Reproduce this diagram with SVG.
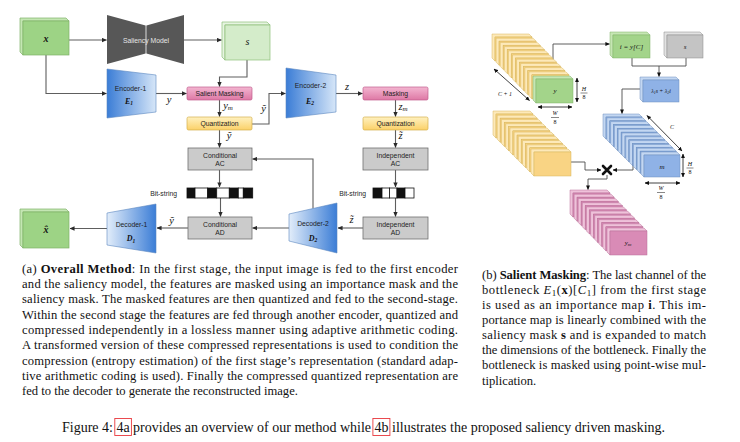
<svg xmlns="http://www.w3.org/2000/svg" width="740" height="442" viewBox="0 0 740 442">
<defs>
<style>
.ln{fill:none;stroke:#5e5e5e;stroke-width:1.1;marker-end:url(#ah)}
.ln2{fill:none;stroke:#4d4d4d;stroke-width:0.9;marker-end:url(#ah2)}
.dbl{fill:none;stroke:#111;stroke-width:0.8;marker-start:url(#dh);marker-end:url(#dh)}
.t{font-family:"Liberation Sans",Arial,sans-serif;font-size:6.8px;fill:#1e1e1e;text-anchor:middle}
.m{font-family:"Liberation Serif","Times New Roman",serif;font-style:italic;fill:#111;text-anchor:middle}
.cap{font-family:"Liberation Serif","Times New Roman",serif;font-size:12.6px;fill:#111}
.fig{font-family:"Liberation Serif","Times New Roman",serif;font-size:14px;fill:#111}
.gbox{fill:#cbcbcb;stroke:#707070;stroke-width:0.8}
.pk{fill:url(#gPink);stroke:#c25b8c;stroke-width:0.7}
.yl{fill:url(#gYel);stroke:#d4b04a;stroke-width:0.7}
.bw{fill:#fff;stroke:#111;stroke-width:0.8}
.bk{fill:#111;stroke:#111;stroke-width:0.8}
.gside{fill:#c4e6b3;stroke:#7fb267;stroke-width:0.7}
.gfront{fill:#9dd385;stroke:#7fb267;stroke-width:0.7}
.lside{fill:#e6f4e1;stroke:#8cbf78;stroke-width:0.7}
.lfront{fill:#d4ecca;stroke:#8cbf78;stroke-width:0.7}
.fb{fill:none;stroke:#e8383d;stroke-width:0.9}
</style>
<marker id="ah" viewBox="0 0 6 6" refX="5.5" refY="3" markerWidth="5" markerHeight="5" orient="auto" markerUnits="userSpaceOnUse"><path d="M0,0.4 L6,3 L0,5.6 Z" fill="#2a2a2a"/></marker>
<marker id="ah2" viewBox="0 0 6 6" refX="5.5" refY="3" markerWidth="4.5" markerHeight="4.5" orient="auto" markerUnits="userSpaceOnUse"><path d="M0,0.4 L6,3 L0,5.6 Z" fill="#111"/></marker>
<marker id="dh" viewBox="0 0 6 6" refX="5.5" refY="3" markerWidth="4.5" markerHeight="4.5" orient="auto-start-reverse" markerUnits="userSpaceOnUse"><path d="M0,0.3 L6,3 L0,5.7 Z" fill="#111"/></marker>
<linearGradient id="gEnc" x1="0" y1="0" x2="1" y2="0"><stop offset="0" stop-color="#3b7dd6"/><stop offset="1" stop-color="#d6e6f8"/></linearGradient>
<linearGradient id="gDec" x1="0" y1="0" x2="1" y2="0"><stop offset="0" stop-color="#e2edfa"/><stop offset="1" stop-color="#3b7dd6"/></linearGradient>
<linearGradient id="gPink" x1="0" y1="0" x2="0" y2="1"><stop offset="0" stop-color="#f3b6d1"/><stop offset="1" stop-color="#de78a5"/></linearGradient>
<linearGradient id="gYel" x1="0" y1="0" x2="0" y2="1"><stop offset="0" stop-color="#fff1c0"/><stop offset="1" stop-color="#fbd168"/></linearGradient>
<g id="ys"><path d="M0,0H37L40,3H3V27L0,24Z" fill="#fde9b9" stroke="#d8b65c" stroke-width="0.5"/><rect x="3" y="3" width="37" height="24" fill="#f9d484" stroke="#d8b65c" stroke-width="0.5"/></g>
<g id="gs"><path d="M0,0H37L40,3H3V27L0,24Z" fill="#c6e6b4" stroke="#7fb267" stroke-width="0.5"/><rect x="3" y="3" width="37" height="24" fill="#a3d48a" stroke="#7fb267" stroke-width="0.5"/></g>
<g id="bs"><path d="M0,0H36L39,3H3V25L0,22Z" fill="#c3d7f2" stroke="#6c8ebf" stroke-width="0.5"/><rect x="3" y="3" width="36" height="22" fill="#8fb2e6" stroke="#6c8ebf" stroke-width="0.5"/></g>
<g id="ps"><path d="M0,0H37L40,3H3V27L0,24Z" fill="#efc2da" stroke="#b96f98" stroke-width="0.5"/><rect x="3" y="3" width="37" height="24" fill="#d98bb6" stroke="#b96f98" stroke-width="0.5"/></g>
</defs>
<rect width="740" height="442" fill="#fff"/>

<!-- ===== (a) connectors ===== -->
<g id="connectors-a">
<path class="ln" d="M69,40 H106.5"/>
<path class="ln" d="M184,40 H221.5"/>
<path class="ln" d="M46,55 V93.5 H106.5"/>
<path class="ln" d="M156,93.5 H186.5"/>
<path class="ln" d="M247,60 V77 H219.5 V86.5"/>
<path class="ln" d="M219.5,100 V116.5"/>
<path class="ln" d="M252,124 H269 V93.5 H285.5"/>
<path class="ln" d="M336,93.5 H362.5"/>
<path class="ln" d="M395.5,100 V116.5"/>
<path class="ln" d="M219.5,130 V147.5"/>
<path class="ln" d="M219.5,170 V187"/>
<path class="ln" d="M220.5,198 V216.5"/>
<path class="ln" d="M188,228 H157"/>
<path class="ln" d="M107,228.5 H70"/>
<path class="ln" d="M289,228 H252.5"/>
<path class="ln" d="M313,208.5 V159 H252.5"/>
<path class="ln" d="M363,228 H338"/>
<path class="ln" d="M395.5,130 V147.5"/>
<path class="ln" d="M395.5,170 V187"/>
<path class="ln" d="M395.5,198 V216.5"/>
<text class="m" x="169" y="103" font-size="10.5">y</text>
<text class="m" x="228" y="108.5" font-size="10.5">y<tspan font-size="7" dy="1.5">m</tspan></text>
<text class="m" x="263.5" y="111.5" font-size="10.5">&#x1EF9;</text>
<text class="m" x="347" y="90" font-size="10.5">z</text>
<text class="m" x="403" y="109.5" font-size="10.5">z<tspan font-size="7" dy="1.5">m</tspan></text>
<text class="m" x="229" y="138.5" font-size="10.5">&#x1EF9;</text>
<text class="m" x="400.5" y="138.5" font-size="10.5">z&#x303;</text>
<text class="m" x="171.5" y="223.5" font-size="10.5">&#x1EF9;</text>
<text class="m" x="351.5" y="223" font-size="10.5">z&#x303;</text>
</g>

<!-- ===== (a) nodes ===== -->
<g id="node-x">
<path class="gside" d="M20,18 H66 L69,21 H23 V55 L20,52 Z"/>
<rect class="gfront" x="23" y="21" width="46" height="34"/>
<text class="m" x="46" y="41.5" font-size="10" font-weight="bold">x</text>
</g>
<g id="node-saliency">
<path d="M107,15 L145.6,25.5 V53.5 L107,64 Z M146.4,25.5 L184,15 V64 L146.4,53.5 Z" fill="#575757"/>
<text class="t" x="146" y="42.5" font-size="6" style="fill:#e6e6e6">Saliency Model</text>
</g>
<g id="node-s">
<path class="lside" d="M222,22 H267 L270,25 H225 V60 L222,57 Z"/>
<rect class="lfront" x="225" y="25" width="45" height="35"/>
<text class="m" x="247.5" y="45" font-size="10">s</text>
</g>
<g id="node-enc1">
<path d="M107,69 L156,75 V112 L107,118 Z" fill="url(#gEnc)" stroke="#5b86c0" stroke-width="0.6"/>
<text class="t" x="130.5" y="90.5">Encoder-1</text>
<text class="m" x="129" y="103.5" font-size="8" font-weight="bold">E<tspan font-size="5.5" dy="1.5">1</tspan></text>
</g>
<g id="node-salmask">
<rect class="pk" x="187" y="87" width="65" height="13" rx="1.5"/>
<text class="t" x="219.5" y="96" font-size="6.5">Salient Masking</text>
</g>
<g id="node-quant1">
<rect class="yl" x="187" y="117" width="65" height="13" rx="1.5"/>
<text class="t" x="219.5" y="126" font-size="6.5">Quantization</text>
</g>
<g id="node-enc2">
<path d="M286,68 L336,75 V112 L286,118 Z" fill="url(#gEnc)" stroke="#5b86c0" stroke-width="0.6"/>
<text class="t" x="310.5" y="88">Encoder-2</text>
<text class="m" x="310" y="103.5" font-size="8" font-weight="bold">E<tspan font-size="5.5" dy="1.5">2</tspan></text>
</g>
<g id="node-masking">
<rect class="pk" x="363" y="87" width="65" height="13" rx="1.5"/>
<text class="t" x="395.5" y="96" font-size="6.5">Masking</text>
</g>
<g id="node-quant2">
<rect class="yl" x="363" y="117" width="65" height="13" rx="1.5"/>
<text class="t" x="395.5" y="126" font-size="6.5">Quantization</text>
</g>
<g id="node-condac">
<rect class="gbox" x="188" y="148" width="64" height="22"/>
<text class="t" x="220" y="157.5">Conditional</text>
<text class="t" x="220" y="166">AC</text>
</g>
<g id="node-bits1">
<text class="t" x="177" y="195.5" style="text-anchor:end">Bit-string</text>
<rect class="bk" x="187" y="188" width="8" height="10"/>
<rect class="bw" x="195" y="188" width="12.7" height="10"/>
<rect class="bk" x="207.7" y="188" width="9" height="10"/>
<rect class="bw" x="216.7" y="188" width="12.6" height="10"/>
<rect class="bk" x="229.3" y="188" width="9" height="10"/>
<rect class="bw" x="238.3" y="188" width="5" height="10"/>
<rect class="bk" x="243.3" y="188" width="9.4" height="10"/>
</g>
<g id="node-condad">
<rect class="gbox" x="188" y="217" width="64" height="22"/>
<text class="t" x="220" y="226.5">Conditional</text>
<text class="t" x="220" y="235">AD</text>
</g>
<g id="node-dec1">
<path d="M107,213 L156,204 V253 L107,245 Z" fill="url(#gDec)" stroke="#5b86c0" stroke-width="0.6"/>
<text class="t" x="131.5" y="226.5">Decoder-1</text>
<text class="m" x="131" y="241" font-size="8" font-weight="bold">D<tspan font-size="5.5" dy="1.5">1</tspan></text>
</g>
<g id="node-xhat">
<path class="gside" d="M20,209 H66 L69,212 H23 V248 L20,245 Z"/>
<rect class="gfront" x="23" y="212" width="46" height="36"/>
<text class="m" x="46" y="233" font-size="10" font-weight="bold">x&#x302;</text>
</g>
<g id="node-dec2">
<path d="M289,214 L337,203 V253 L289,241 Z" fill="url(#gDec)" stroke="#5b86c0" stroke-width="0.6"/>
<text class="t" x="313" y="226">Decoder-2</text>
<text class="m" x="313" y="240.5" font-size="8" font-weight="bold">D<tspan font-size="5.5" dy="1.5">2</tspan></text>
</g>
<g id="node-indac">
<rect class="gbox" x="363" y="148" width="65" height="22"/>
<text class="t" x="395.5" y="157.5">Independent</text>
<text class="t" x="395.5" y="166">AC</text>
</g>
<g id="node-bits2">
<text class="t" x="366" y="195.5" style="text-anchor:end">Bit-string</text>
<rect class="bk" x="373" y="188" width="9" height="10"/>
<rect class="bw" x="382" y="188" width="7.5" height="10"/>
<rect class="bw" x="389.5" y="188" width="7.5" height="10"/>
<rect class="bk" x="397" y="188" width="8" height="10"/>
<rect class="bw" x="405" y="188" width="9" height="10"/>
</g>
<g id="node-indad">
<rect class="gbox" x="363" y="217" width="65" height="22"/>
<text class="t" x="395.5" y="226.5">Independent</text>
<text class="t" x="395.5" y="235">AD</text>
</g>

<!-- ===== (b) ===== -->
<g id="connectors-b">
<path class="ln2" d="M553,76 V44 H609.5"/>
<path fill="none" stroke="#4d4d4d" stroke-width="0.9" d="M632,58 V66 H686 V58"/>
<path class="ln2" d="M659,66 V76.5"/>
<path class="ln2" d="M640,89 H622 V113.5"/>
<path class="ln2" d="M570,162 H585 V170 H601"/>
<path class="ln2" d="M641,163 H633 V170 H613"/>
<path class="ln2" d="M607,175 V179 H588 V189.5"/>
<path class="dbl" d="M494,69 L529.5,100.5"/>
<path class="dbl" d="M577,78 V102"/>
<path class="dbl" d="M538,107 H572"/>
<path class="dbl" d="M647,115.5 L682,151"/>
<path class="dbl" d="M683,154 V177"/>
<path class="dbl" d="M645,183 H680"/>
</g>
<g id="node-ystack">
<use href="#ys" x="492" y="34"/><use href="#ys" x="496.1" y="38.2"/><use href="#ys" x="500.2" y="42.4"/><use href="#ys" x="504.3" y="46.6"/><use href="#ys" x="508.4" y="50.8"/><use href="#ys" x="512.5" y="55"/><use href="#ys" x="516.6" y="59.2"/><use href="#ys" x="520.7" y="63.4"/><use href="#ys" x="524.8" y="67.6"/><use href="#ys" x="528.9" y="71.8"/><use href="#gs" x="533" y="76"/>
<text class="m" x="555" y="93" font-size="7">y</text>
<text class="m" x="505" y="96" font-size="6">C + 1</text>
<text class="m" x="584" y="90.5" font-size="6">H</text>
<path d="M580.5,93 H587.5" stroke="#111" stroke-width="0.5"/>
<text class="m" x="584" y="99" font-size="6" style="font-style:normal">8</text>
<text class="m" x="555" y="115" font-size="6">W</text>
<path d="M551,117.5 H559" stroke="#111" stroke-width="0.5"/>
<text class="m" x="555" y="123.5" font-size="6" style="font-style:normal">8</text>
</g>
<g id="node-i">
<path d="M610,32 H647 L650,35 H613 V58 L610,55 Z" fill="#c6e6b4" stroke="#7fb267" stroke-width="0.5"/>
<rect x="613" y="35" width="37" height="23" fill="#a3d48a" stroke="#7fb267" stroke-width="0.5"/>
<text class="m" x="631.5" y="49" font-size="7">i = y[C]</text>
</g>
<g id="node-s2">
<path d="M664,32 H700 L703,35 H667 V58 L664,55 Z" fill="#e2e2e2" stroke="#8a8a8a" stroke-width="0.5"/>
<rect x="667" y="35" width="36" height="23" fill="#c4c4c4" stroke="#8a8a8a" stroke-width="0.5"/>
<text class="m" x="685" y="49" font-size="7">s</text>
</g>
<g id="node-lambda">
<path d="M640,77 H676 L679,80 H643 V102 L640,99 Z" fill="#c3d7f2" stroke="#6c8ebf" stroke-width="0.5"/>
<rect x="643" y="80" width="36" height="22" fill="#8fb2e6" stroke="#6c8ebf" stroke-width="0.5"/>
<text class="m" x="661" y="93" font-size="5.8">λ<tspan font-size="4" dy="1">1</tspan><tspan dy="-1">s + λ</tspan><tspan font-size="4" dy="1">2</tspan><tspan dy="-1">i</tspan></text>
</g>
<g id="node-mstack">
<use href="#bs" x="603" y="114"/><use href="#bs" x="606.8" y="117.8"/><use href="#bs" x="610.6" y="121.6"/><use href="#bs" x="614.4" y="125.4"/><use href="#bs" x="618.2" y="129.2"/><use href="#bs" x="622" y="133"/><use href="#bs" x="625.8" y="136.8"/><use href="#bs" x="629.6" y="140.6"/><use href="#bs" x="633.4" y="144.4"/><use href="#bs" x="637.2" y="148.2"/><use href="#bs" x="641" y="152"/>
<text class="m" x="662" y="169" font-size="7">m</text>
<text class="m" x="672" y="129" font-size="6">C</text>
<text class="m" x="690" y="165.5" font-size="6">H</text>
<path d="M686.5,168 H693.5" stroke="#111" stroke-width="0.5"/>
<text class="m" x="690" y="174" font-size="6" style="font-style:normal">8</text>
<text class="m" x="661" y="190" font-size="6">W</text>
<path d="M657,192.5 H665" stroke="#111" stroke-width="0.5"/>
<text class="m" x="661" y="199" font-size="6" style="font-style:normal">8</text>
</g>
<g id="node-ystack2">
<use href="#ys" x="493" y="111"/><use href="#ys" x="497.2" y="115.2"/><use href="#ys" x="501.4" y="119.4"/><use href="#ys" x="505.7" y="123.7"/><use href="#ys" x="509.9" y="127.9"/><use href="#ys" x="514.1" y="132.1"/><use href="#ys" x="518.3" y="136.3"/><use href="#ys" x="522.5" y="140.5"/><use href="#ys" x="526.8" y="144.8"/><use href="#ys" x="531" y="149"/>
</g>
<g id="node-times">
<path d="M603,166 L611,174 M611,166 L603,174" stroke="#111" stroke-width="2.6" stroke-linecap="round"/>
</g>
<g id="node-ymstack">
<use href="#ps" x="570" y="190"/><use href="#ps" x="574.1" y="194.2"/><use href="#ps" x="578.2" y="198.4"/><use href="#ps" x="582.3" y="202.7"/><use href="#ps" x="586.4" y="206.9"/><use href="#ps" x="590.6" y="211.1"/><use href="#ps" x="594.7" y="215.3"/><use href="#ps" x="598.8" y="219.6"/><use href="#ps" x="602.9" y="223.8"/><use href="#ps" x="607" y="228"/>
<text class="m" x="628" y="245" font-size="7">y<tspan font-size="5" dy="1">m</tspan></text>
</g>

<!-- ===== captions ===== -->
<g id="caption-a" class="cap">
<text x="22" y="272.5" textLength="436" lengthAdjust="spacing">(a) <tspan font-weight="bold">Overall Method</tspan>: In the first stage, the input image is fed to the first encoder</text>
<text x="22" y="287.8" textLength="436" lengthAdjust="spacing">and the saliency model, the features are masked using an importance mask and the</text>
<text x="22" y="303.2" textLength="436" lengthAdjust="spacing">saliency mask. The masked features are then quantized and fed to the second-stage.</text>
<text x="22" y="318.5" textLength="436" lengthAdjust="spacing">Within the second stage the features are fed through another encoder, quantized and</text>
<text x="22" y="333.9" textLength="436" lengthAdjust="spacing">compressed independently in a lossless manner using adaptive arithmetic coding.</text>
<text x="22" y="349.2" textLength="436" lengthAdjust="spacing">A transformed version of these compressed representations is used to condition the</text>
<text x="22" y="364.5" textLength="436" lengthAdjust="spacing">compression (entropy estimation) of the first stage’s representation (standard adap-</text>
<text x="22" y="379.9" textLength="436" lengthAdjust="spacing">tive arithmetic coding is used). Finally the compressed quantized representation are</text>
<text x="22" y="395.2">fed to the decoder to generate the reconstructed image.</text>
</g>
<g id="caption-b" class="cap">
<text x="482" y="278.5" textLength="224" lengthAdjust="spacing">(b) <tspan font-weight="bold">Salient Masking</tspan>: The last channel of the</text>
<text x="482" y="293.7" textLength="224" lengthAdjust="spacing">bottleneck <tspan font-style="italic">E</tspan><tspan font-size="9" dy="2">1</tspan><tspan dy="-2">(</tspan><tspan font-weight="bold">x</tspan>)[<tspan font-style="italic">C</tspan><tspan font-size="9" dy="2">1</tspan><tspan dy="-2">]</tspan> from the first stage</text>
<text x="482" y="308.8" textLength="224" lengthAdjust="spacing">is used as an importance map <tspan font-weight="bold">i</tspan>. This im-</text>
<text x="482" y="324" textLength="224" lengthAdjust="spacing">portance map is linearly combined with the</text>
<text x="482" y="339.1" textLength="224" lengthAdjust="spacing">saliency mask <tspan font-weight="bold">s</tspan> and is expanded to match</text>
<text x="482" y="354.3" textLength="224" lengthAdjust="spacing">the dimensions of the bottleneck. Finally the</text>
<text x="482" y="369.4" textLength="224" lengthAdjust="spacing">bottleneck is masked using point-wise mul-</text>
<text x="482" y="384.5">tiplication.</text>
</g>
<g id="caption-fig">
<text class="fig" x="62" y="432">Figure 4:</text>
<rect class="fb" x="114.8" y="418.5" width="16.6" height="17"/>
<text class="fig" x="116.5" y="432">4a</text>
<text class="fig" x="133.1" y="432">provides an overview of our method while</text>
<rect class="fb" x="372.9" y="418.5" width="17" height="17"/>
<text class="fig" x="374.6" y="432">4b</text>
<text class="fig" x="392.1" y="432">illustrates the proposed saliency driven masking.</text>
</g>
</svg>
